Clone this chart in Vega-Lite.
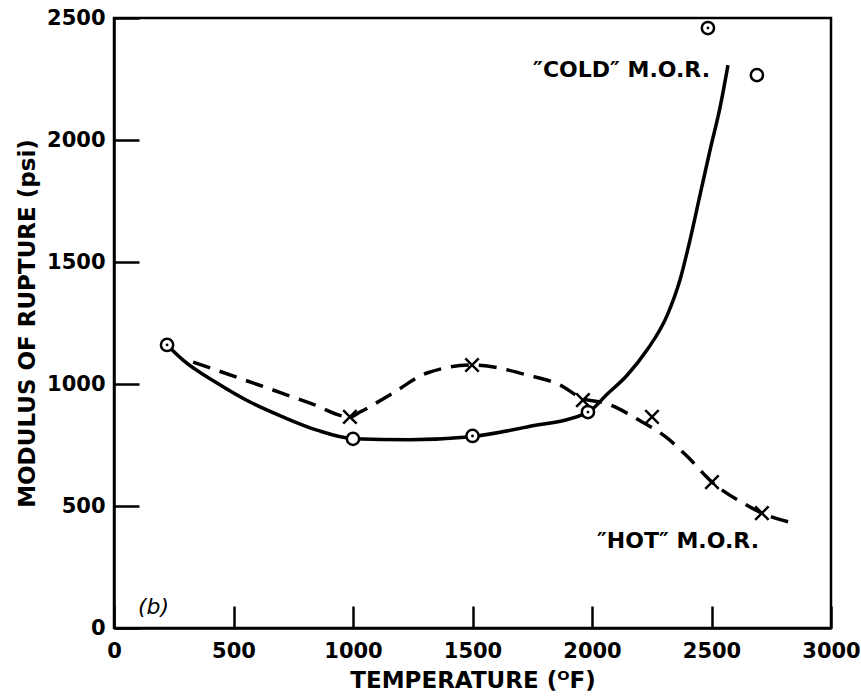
{
  "$schema": "https://vega.github.io/schema/vega-lite/v6.json",
  "width": 717,
  "height": 610,
  "autosize": {"type": "none"},
  "padding": {"left": 114, "top": 18, "right": 30, "bottom": 72},
  "background": "white",
  "config": {
    "view": {"stroke": "black", "strokeWidth": 2.5},
    "font": "DejaVu Sans",
    "axis": {
      "domainColor": "black", "domainWidth": 2.5,
      "tickColor": "black", "tickWidth": 2.5,
      "labelColor": "black", "labelFont": "DejaVu Sans", "labelFontSize": 21, "labelFontWeight": "bold",
      "titleColor": "black", "titleFont": "DejaVu Sans", "titleFontSize": 23, "titleFontWeight": "bold",
      "grid": false
    }
  },
  "datasets": {
    "curves": [
      {"series": "cold", "t": 222, "mor": 1160},
      {"series": "cold", "t": 289, "mor": 1098},
      {"series": "cold", "t": 431, "mor": 1004},
      {"series": "cold", "t": 569, "mor": 926},
      {"series": "cold", "t": 707, "mor": 865},
      {"series": "cold", "t": 849, "mor": 811},
      {"series": "cold", "t": 1000, "mor": 776},
      {"series": "cold", "t": 1238, "mor": 772},
      {"series": "cold", "t": 1481, "mor": 783},
      {"series": "cold", "t": 1728, "mor": 824},
      {"series": "cold", "t": 1983, "mor": 884},
      {"series": "cold", "t": 2063, "mor": 958},
      {"series": "cold", "t": 2146, "mor": 1035},
      {"series": "cold", "t": 2230, "mor": 1139},
      {"series": "cold", "t": 2314, "mor": 1280},
      {"series": "cold", "t": 2368, "mor": 1426},
      {"series": "cold", "t": 2410, "mor": 1590},
      {"series": "cold", "t": 2452, "mor": 1775},
      {"series": "cold", "t": 2494, "mor": 1959},
      {"series": "cold", "t": 2536, "mor": 2135},
      {"series": "cold", "t": 2569, "mor": 2307},
      {"series": "hot", "t": 331, "mor": 1090},
      {"series": "hot", "t": 600, "mor": 998},
      {"series": "hot", "t": 820, "mor": 922},
      {"series": "hot", "t": 987, "mor": 865},
      {"series": "hot", "t": 1029, "mor": 885},
      {"series": "hot", "t": 1167, "mor": 963},
      {"series": "hot", "t": 1310, "mor": 1045},
      {"series": "hot", "t": 1502, "mor": 1078},
      {"series": "hot", "t": 1728, "mor": 1037},
      {"series": "hot", "t": 1866, "mor": 996},
      {"series": "hot", "t": 1962, "mor": 940},
      {"series": "hot", "t": 2046, "mor": 924},
      {"series": "hot", "t": 2096, "mor": 906},
      {"series": "hot", "t": 2180, "mor": 861},
      {"series": "hot", "t": 2314, "mor": 779},
      {"series": "hot", "t": 2397, "mor": 705},
      {"series": "hot", "t": 2502, "mor": 598},
      {"series": "hot", "t": 2632, "mor": 512},
      {"series": "hot", "t": 2711, "mor": 471},
      {"series": "hot", "t": 2841, "mor": 430}
    ],
    "cold_pts": [
      {"t": 222, "mor": 1160, "dot": true},
      {"t": 1000, "mor": 775, "dot": false},
      {"t": 1500, "mor": 787, "dot": true},
      {"t": 1983, "mor": 885, "dot": true},
      {"t": 2485, "mor": 2459, "dot": true},
      {"t": 2690, "mor": 2266, "dot": false}
    ],
    "hot_pts": [
      {"t": 987, "mor": 865},
      {"t": 1498, "mor": 1078},
      {"t": 1962, "mor": 934},
      {"t": 2251, "mor": 865},
      {"t": 2502, "mor": 598},
      {"t": 2711, "mor": 471}
    ],
    "labels": [
      {"t": 2494, "mor": 2285, "text": "″COLD″ M.O.R.", "pos": "right"},
      {"t": 2021, "mor": 357, "text": "″HOT″ M.O.R.", "pos": "left"},
      {"t": 100, "mor": 86, "text": "(b)", "pos": "italic"}
    ]
  },
  "encoding": {
    "x": {"field": "t", "type": "quantitative",
      "scale": {"domain": [0, 3000], "nice": false, "zero": false},
      "axis": {"title": "TEMPERATURE (ᴼF)", "values": [0, 500, 1000, 1500, 2000, 2500, 3000], "format": "d",
        "tickSize": -22, "labelPadding": 34, "titlePadding": 8, "labelFlush": false}},
    "y": {"field": "mor", "type": "quantitative",
      "scale": {"domain": [0, 2500], "nice": false, "zero": false},
      "axis": {"title": "MODULUS OF RUPTURE (psi)", "values": [0, 500, 1000, 1500, 2000, 2500], "format": "d",
        "tickSize": -25, "labelPadding": 34, "titlePadding": 7, "labelFlush": false}}
  },
  "layer": [
    {
      "data": {"name": "curves"},
      "transform": [{"filter": "datum.series === 'cold'"}],
      "mark": {"type": "line", "interpolate": "monotone", "color": "black", "strokeWidth": 3.5}
    },
    {
      "data": {"name": "curves"},
      "transform": [{"filter": "datum.series === 'hot'"}],
      "mark": {"type": "line", "interpolate": "monotone", "color": "black", "strokeWidth": 3.5, "strokeDash": [18, 10]}
    },
    {
      "data": {"name": "cold_pts"},
      "mark": {"type": "point", "shape": "circle", "size": 150, "filled": true, "fill": "white", "stroke": "black", "strokeWidth": 2.5, "opacity": 1}
    },
    {
      "data": {"name": "cold_pts"},
      "transform": [{"filter": "datum.dot"}],
      "mark": {"type": "point", "shape": "circle", "size": 8, "filled": true, "color": "black", "opacity": 1}
    },
    {
      "data": {"name": "hot_pts"},
      "mark": {"type": "point", "shape": "M-1,-1L1,1M1,-1L-1,1", "size": 180, "stroke": "black", "strokeWidth": 2.5, "opacity": 1}
    },
    {
      "data": {"name": "labels"},
      "transform": [{"filter": "datum.pos === 'right'"}],
      "mark": {"type": "text", "font": "DejaVu Sans", "fontSize": 22, "fontWeight": "bold", "color": "black", "baseline": "middle", "align": "right"},
      "encoding": {"text": {"field": "text"}}
    },
    {
      "data": {"name": "labels"},
      "transform": [{"filter": "datum.pos === 'left'"}],
      "mark": {"type": "text", "font": "DejaVu Sans", "fontSize": 22, "fontWeight": "bold", "color": "black", "baseline": "middle", "align": "left"},
      "encoding": {"text": {"field": "text"}}
    },
    {
      "data": {"name": "labels"},
      "transform": [{"filter": "datum.pos === 'italic'"}],
      "mark": {"type": "text", "font": "DejaVu Sans", "fontSize": 22, "fontStyle": "italic", "color": "black", "baseline": "middle", "align": "left"},
      "encoding": {"text": {"field": "text"}}
    }
  ]
}
